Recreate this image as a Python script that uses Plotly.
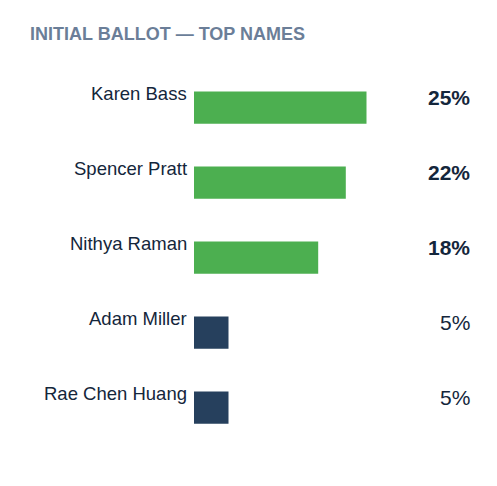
import plotly.graph_objects as go

candidates = ["Karen Bass", "Spencer Pratt", "Nithya Raman", "Adam Miller", "Rae Chen Huang"]
shares = [25, 22, 18, 5, 5]
leaders = [True, True, True, False, False]

GREEN = "#4caf50"
NAVY = "#26405d"
TEXT = "#14263b"
FONT = "Arial, Liberation Sans, sans-serif"

# page body has an 8px margin, so the figure is drawn 8px smaller
W, H = 489, 478

colors = [GREEN if lead else NAVY for lead in leaders]

fig = go.Figure()
fig.add_trace(go.Bar(
    x=shares,
    y=candidates,
    orientation="h",
    marker=dict(color=colors, line=dict(width=0)),
    width=0.43,
    hoverinfo="skip",
))

# candidate names sit left of the bar, slightly raised
for name in candidates:
    fig.add_annotation(
        x=0, y=name, xref="x", yref="y",
        text=name, showarrow=False,
        xanchor="right", yanchor="middle",
        xshift=-5, yshift=14,
        font=dict(family=FONT, size=18.5, color=TEXT),
    )

# percentages in the right column
for name, val, lead in zip(candidates, shares, leaders):
    label = f"<b>{val}%</b>" if lead else f"{val}%"
    fig.add_annotation(
        x=1, y=name, xref="paper", yref="y",
        text=label, showarrow=False,
        xanchor="right", yanchor="middle",
        xshift=2, yshift=10,
        font=dict(family=FONT, size=21, color=TEXT),
    )

fig.update_layout(
    width=W,
    height=H,
    margin=dict(l=186, r=27, t=62, b=41),
    paper_bgcolor="white",
    plot_bgcolor="white",
    showlegend=False,
    title=dict(
        text="<b>INITIAL BALLOT — TOP NAMES</b>",
        xref="container", yref="container",
        x=22 / W, xanchor="left",
        y=1 - 25.5 / H, yanchor="middle",
        font=dict(family=FONT, size=18, color="#6b7e98"),
    ),
    xaxis=dict(range=[0, 40], visible=False, fixedrange=True),
    yaxis=dict(
        autorange="reversed", visible=False,
        categoryorder="array", categoryarray=candidates,
        fixedrange=True,
    ),
)

fig.write_html("out.html", config=dict(displayModeBar=False))
